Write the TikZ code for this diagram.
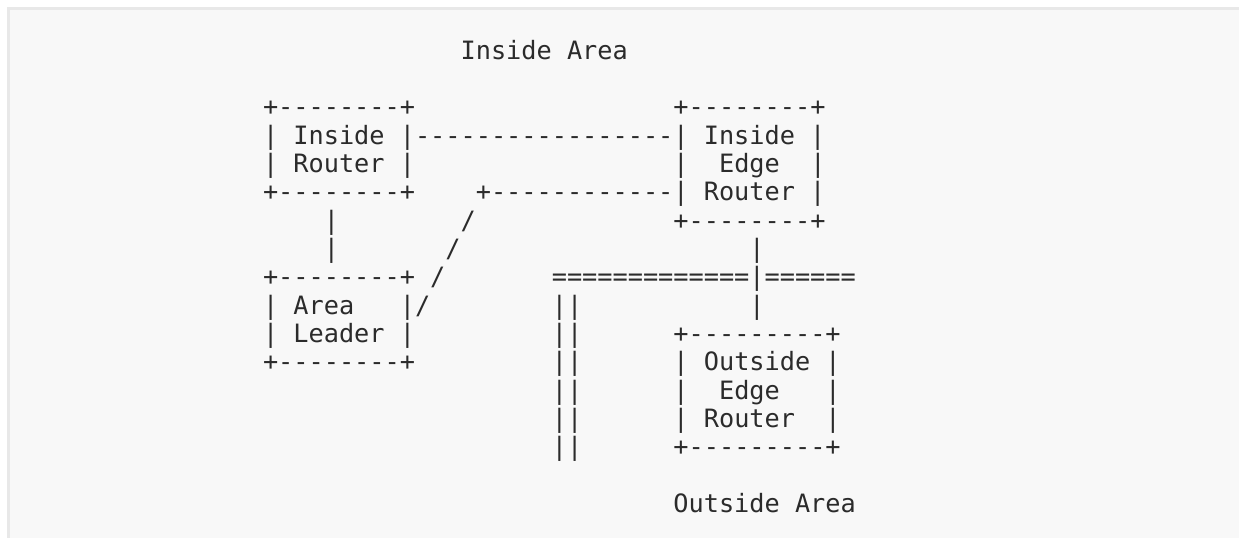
\documentclass[tikz,border=0pt]{standalone}
\usepackage{fontspec}
\setmonofont{DejaVu Sans Mono}
\definecolor{panel}{HTML}{F8F8F8}
\definecolor{edge}{HTML}{E8E8E8}
\definecolor{ink}{HTML}{2B2B2B}
\begin{document}
\begin{tikzpicture}[x=1pt,y=-1pt,
  asc/.style={anchor=base west,inner sep=0pt,outer sep=0pt,text=ink,
    font=\ttfamily\fontsize{25.25}{28}\selectfont}]
\useasboundingbox (0,0) rectangle (1239,538);
\fill[white] (0,0) rectangle (1239,538);
\fill[panel] (7,7) rectangle (1239,538);
\fill[edge] (7,7) rectangle (1239,9.5);
\fill[edge] (7,7) rectangle (9.7,538);
\def\X{263}
\def\W{15.2}
\def\L{28.35}
\node[asc] (r1)  at (\X+13*\W, 59+0*\L)  {Inside~Area};
\node[asc] (r3)  at (\X, 59+2*\L)  {+--------+~~~~~~~~~~~~~~~~~+--------+};
\node[asc] (r4)  at (\X, 59+3*\L)  {|~Inside~|-----------------|~Inside~|};
\node[asc] (r5)  at (\X, 59+4*\L)  {|~Router~|~~~~~~~~~~~~~~~~~|~~Edge~~|};
\node[asc] (r6)  at (\X, 59+5*\L)  {+--------+~~~~+------------|~Router~|};
\node[asc] (r7)  at (\X, 59+6*\L)  {~~~~|~~~~~~~~/~~~~~~~~~~~~~+--------+};
\node[asc] (r8)  at (\X, 59+7*\L)  {~~~~|~~~~~~~/~~~~~~~~~~~~~~~~~~~|};
\node[asc] (r9)  at (\X, 59+8*\L)  {+--------+~/~~~~~~~=============|======};
\node[asc] (r10) at (\X, 59+9*\L)  {|~Area~~~|/~~~~~~~~||~~~~~~~~~~~|};
\node[asc] (r11) at (\X, 59+10*\L) {|~Leader~|~~~~~~~~~||~~~~~~+---------+};
\node[asc] (r12) at (\X, 59+11*\L) {+--------+~~~~~~~~~||~~~~~~|~Outside~|};
\node[asc] (r13) at (\X, 59+12*\L) {~~~~~~~~~~~~~~~~~~~||~~~~~~|~~Edge~~~|};
\node[asc] (r14) at (\X, 59+13*\L) {~~~~~~~~~~~~~~~~~~~||~~~~~~|~Router~~|};
\node[asc] (r15) at (\X, 59+14*\L) {~~~~~~~~~~~~~~~~~~~||~~~~~~+---------+};
\node[asc] (r17) at (\X+27*\W, 59+16*\L) {Outside~Area};
\end{tikzpicture}
\end{document}
